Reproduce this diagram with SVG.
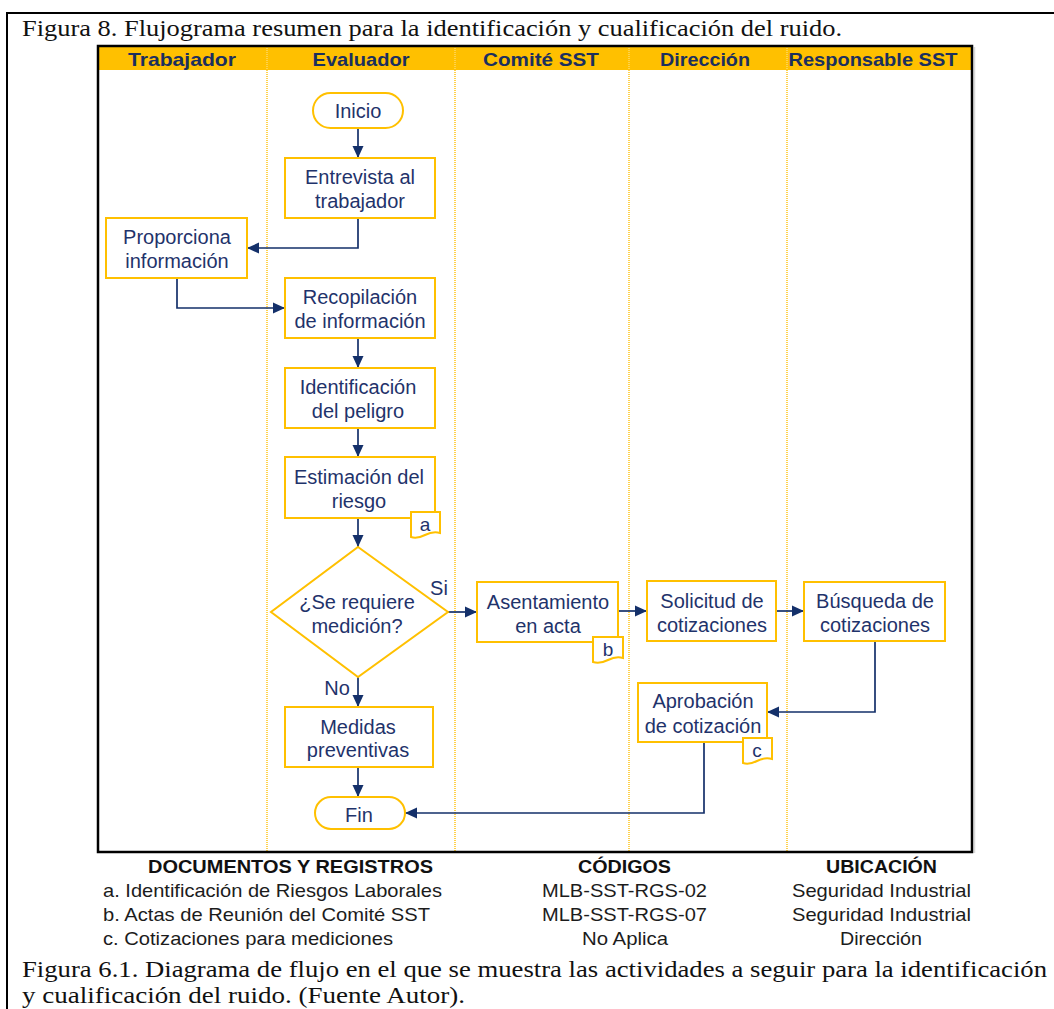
<svg xmlns="http://www.w3.org/2000/svg" width="1054" height="1009" viewBox="0 0 1054 1009">
  <style>
    .cap { font-family: "Times New Roman", "Liberation Serif", Tinos, serif; font-size: 24px; fill: #111; }
    .hdr { font-family: Arial, "Liberation Sans", Arimo, sans-serif; font-size: 18.5px; font-weight: bold; fill: #1B2F5E; text-anchor: middle; }
    .box { fill: #fff; stroke: #FFC000; stroke-width: 2; }
    .lbl { font-family: Arial, "Liberation Sans", Arimo, sans-serif; font-size: 20px; fill: #1F336B; text-anchor: middle; }
    .tag { font-family: Arial, "Liberation Sans", Arimo, sans-serif; font-size: 19px; fill: #1F336B; text-anchor: middle; }
    .lane { stroke: #FFD24D; stroke-width: 2; stroke-dasharray: 1 1; }
    .edge { fill: none; stroke: #14306A; stroke-width: 1.7; marker-end: url(#arrow); }
    .legh { font-family: Arial, "Liberation Sans", Arimo, sans-serif; font-size: 18px; font-weight: bold; fill: #111; }
    .legt { font-family: Arial, "Liberation Sans", Arimo, sans-serif; font-size: 18.5px; fill: #1c1c1c; }
  </style>
  <defs>
    <marker id="arrow" markerUnits="userSpaceOnUse" markerWidth="13" markerHeight="12" refX="12" refY="6" orient="auto">
      <path d="M0,0.5 L12,6 L0,11.5 z" fill="#14306A"/>
    </marker>
  </defs>

  <rect width="1054" height="1009" fill="#fff"/>

  <!-- page frame -->
  <path d="M7,1009 V13 H1054" fill="none" stroke="#000" stroke-width="2"/>

  <!-- top caption -->
  <text class="cap" x="22" y="36" textLength="820" lengthAdjust="spacingAndGlyphs">Figura 8. Flujograma resumen para la identificación y cualificación del ruido.</text>

  <!-- swimlane frame -->
  <g id="swimlanes">
    <line x1="974.5" y1="47" x2="974.5" y2="853" stroke="#d8d8d8" stroke-width="1.5"/>
    <rect x="98" y="46" width="874" height="24" fill="#FFC000"/>
    <line class="lane" x1="267" y1="46" x2="267" y2="852"/>
    <line class="lane" x1="455" y1="46" x2="455" y2="852"/>
    <line class="lane" x1="629" y1="46" x2="629" y2="852"/>
    <line class="lane" x1="787" y1="46" x2="787" y2="852"/>
    <rect x="98" y="46" width="874" height="806" fill="none" stroke="#000" stroke-width="2.5"/>
    <text class="hdr" x="182" y="66" textLength="108" lengthAdjust="spacingAndGlyphs">Trabajador</text>
    <text class="hdr" x="361" y="66" textLength="97" lengthAdjust="spacingAndGlyphs">Evaluador</text>
    <text class="hdr" x="541" y="66" textLength="116" lengthAdjust="spacingAndGlyphs">Comité SST</text>
    <text class="hdr" x="705" y="66" textLength="90" lengthAdjust="spacingAndGlyphs">Dirección</text>
    <text class="hdr" x="873" y="66" textLength="169" lengthAdjust="spacingAndGlyphs">Responsable SST</text>
  </g>

  <!-- connectors -->
  <g id="connectors">
    <path class="edge" d="M358,129 V158"/>
    <path class="edge" d="M358,218 V248 H247"/>
    <path class="edge" d="M177,278 V308 H285"/>
    <path class="edge" d="M358,338 V368"/>
    <path class="edge" d="M358,428 V457"/>
    <path class="edge" d="M358,518 V547"/>
    <path class="edge" d="M448,612 H477"/>
    <path class="edge" d="M618,611 H647"/>
    <path class="edge" d="M776,611 H804"/>
    <path class="edge" d="M875,641 V712 H767"/>
    <path class="edge" d="M358,677 V707"/>
    <path class="edge" d="M358,767 V797"/>
    <path class="edge" d="M704,742 V813 H405"/>
    <text class="lbl" x="439" y="595">Si</text>
    <text class="lbl" x="337" y="695">No</text>
  </g>

  <!-- nodes -->
  <g id="inicio">
    <rect class="box" x="313" y="93" width="90" height="35" rx="17.5"/>
    <text class="lbl" x="358" y="118">Inicio</text>
  </g>
  <g id="entrevista">
    <rect class="box" x="285" y="158" width="150" height="60"/>
    <text class="lbl" x="360" y="184">Entrevista  al</text>
    <text class="lbl" x="360" y="208">trabajador</text>
  </g>
  <g id="proporciona">
    <rect class="box" x="106" y="218" width="141" height="60"/>
    <text class="lbl" x="177" y="244">Proporciona</text>
    <text class="lbl" x="177" y="268">información</text>
  </g>
  <g id="recopilacion">
    <rect class="box" x="285" y="278" width="150" height="60"/>
    <text class="lbl" x="360" y="304">Recopilación</text>
    <text class="lbl" x="360" y="328">de  información</text>
  </g>
  <g id="identificacion">
    <rect class="box" x="285" y="368" width="150" height="60"/>
    <text class="lbl" x="358" y="394">Identificación</text>
    <text class="lbl" x="358" y="418">del peligro</text>
  </g>
  <g id="estimacion">
    <rect class="box" x="285" y="457" width="150" height="61"/>
    <text class="lbl" x="359" y="484">Estimación del</text>
    <text class="lbl" x="359" y="508">riesgo</text>
    <path class="box" d="M411,512 H440 V533 Q433,531 425,535 T411,537 Z"/>
    <text class="tag" x="425" y="531">a</text>
  </g>
  <g id="decision">
    <polygon class="box" points="358,547 448,612 358,677 271,612"/>
    <text class="lbl" x="357" y="609">¿Se requiere</text>
    <text class="lbl" x="357" y="633">medición?</text>
  </g>
  <g id="asentamiento">
    <rect class="box" x="477" y="582" width="141" height="60"/>
    <text class="lbl" x="548" y="609">Asentamiento</text>
    <text class="lbl" x="548" y="633">en  acta</text>
    <path class="box" d="M593,637 H623 V658 Q616,656 608,660 T593,662 Z"/>
    <text class="tag" x="608" y="656">b</text>
  </g>
  <g id="solicitud">
    <rect class="box" x="647" y="581" width="129" height="60"/>
    <text class="lbl" x="712" y="608">Solicitud de</text>
    <text class="lbl" x="712" y="632">cotizaciones</text>
  </g>
  <g id="busqueda">
    <rect class="box" x="804" y="582" width="141" height="59"/>
    <text class="lbl" x="875" y="608">Búsqueda  de</text>
    <text class="lbl" x="875" y="632">cotizaciones</text>
  </g>
  <g id="aprobacion">
    <rect class="box" x="638" y="683" width="129" height="59"/>
    <text class="lbl" x="703" y="708">Aprobación</text>
    <text class="lbl" x="703" y="733">de  cotización</text>
    <path class="box" d="M743,738 H772 V759 Q765,757 757,761 T743,763 Z"/>
    <text class="tag" x="757" y="757">c</text>
  </g>
  <g id="medidas">
    <rect class="box" x="285" y="707" width="148" height="60"/>
    <text class="lbl" x="358" y="734">Medidas</text>
    <text class="lbl" x="358" y="757">preventivas</text>
  </g>
  <g id="fin">
    <rect class="box" x="315" y="797" width="90" height="32" rx="16"/>
    <text class="lbl" x="359" y="822">Fin</text>
  </g>

  <!-- records legend -->
  <g id="legend">
    <text class="legh" x="148" y="873" textLength="285" lengthAdjust="spacingAndGlyphs">DOCUMENTOS Y REGISTROS</text>
    <text class="legt" x="103" y="897" textLength="339" lengthAdjust="spacingAndGlyphs">a. Identificación de Riesgos Laborales</text>
    <text class="legt" x="103" y="921" textLength="327" lengthAdjust="spacingAndGlyphs">b. Actas de Reunión del Comité SST</text>
    <text class="legt" x="103" y="945" textLength="290" lengthAdjust="spacingAndGlyphs">c. Cotizaciones para mediciones</text>

    <text class="legh" x="578" y="873" textLength="93" lengthAdjust="spacingAndGlyphs">CÓDIGOS</text>
    <text class="legt" x="542" y="897" textLength="165" lengthAdjust="spacingAndGlyphs">MLB-SST-RGS-02</text>
    <text class="legt" x="542" y="921" textLength="165" lengthAdjust="spacingAndGlyphs">MLB-SST-RGS-07</text>
    <text class="legt" x="582" y="945" textLength="86" lengthAdjust="spacingAndGlyphs">No Aplica</text>

    <text class="legh" x="826" y="873" textLength="111" lengthAdjust="spacingAndGlyphs">UBICACIÓN</text>
    <text class="legt" x="792" y="897" textLength="179" lengthAdjust="spacingAndGlyphs">Seguridad Industrial</text>
    <text class="legt" x="792" y="921" textLength="179" lengthAdjust="spacingAndGlyphs">Seguridad Industrial</text>
    <text class="legt" x="840" y="945" textLength="82" lengthAdjust="spacingAndGlyphs">Dirección</text>
  </g>

  <!-- bottom caption -->
  <text class="cap" x="22" y="977" textLength="1025" lengthAdjust="spacingAndGlyphs">Figura 6.1. Diagrama de flujo en el que se muestra las actividades a seguir para la identificación</text>
  <text class="cap" x="22" y="1003" textLength="443" lengthAdjust="spacingAndGlyphs">y cualificación del ruido. (Fuente Autor).</text>
</svg>
